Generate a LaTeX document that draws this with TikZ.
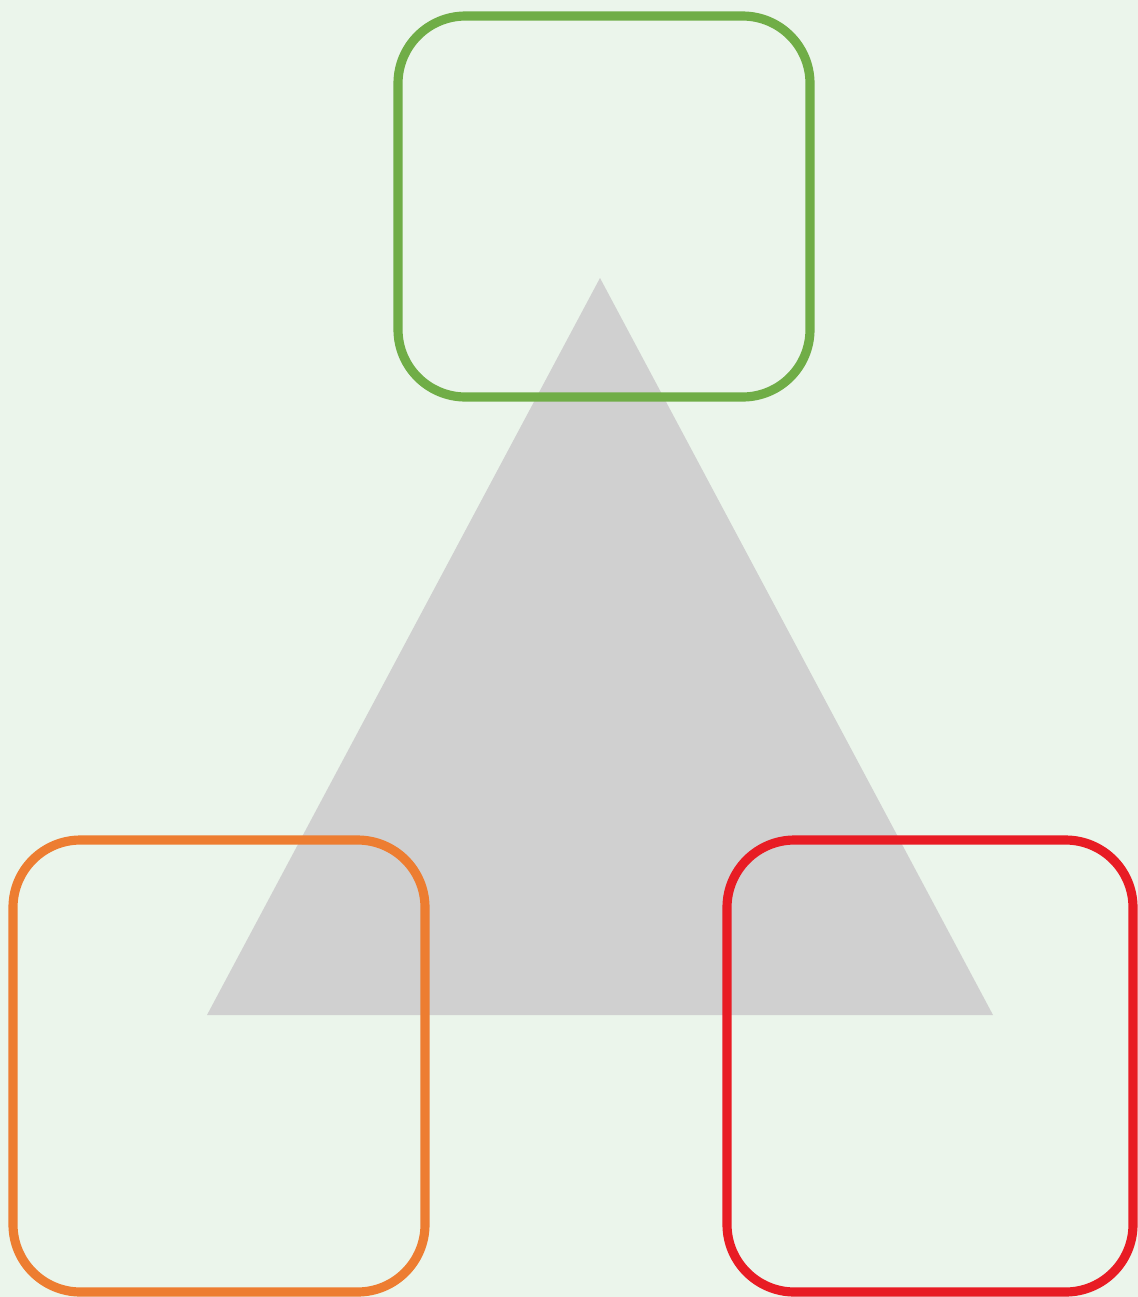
\documentclass[tikz,border=0pt]{standalone}
\usepackage{tikz}
\usepackage{xcolor}
\usetikzlibrary{positioning}
\definecolor{bgc}{HTML}{EBF5EB}
\definecolor{tri}{HTML}{D0D0D0}
\definecolor{cgreen}{HTML}{70AD47}
\definecolor{corange}{HTML}{ED7D31}
\definecolor{cred}{HTML}{E81C24}

\begin{document}
\begin{tikzpicture}
   \tikzstyle{box}=[rectangle,rounded corners=1.35cm,line width=5.2pt,inner sep=0pt,outer sep=0pt];
   \fill[bgc] (0,0) rectangle (22.76,-25.94);
   \useasboundingbox (0,0) rectangle (22.76,-25.94);
   \fill[tri] (12.0,-5.56) -- (4.14,-20.3) -- (19.86,-20.3) -- cycle;
   \node[box,draw=cgreen,minimum width=8.24cm,minimum height=7.62cm]  (top)   at (12.08,-4.13) {};
   \node[box,draw=corange,minimum width=8.24cm,minimum height=9.04cm] (left)  at (4.38,-21.32) {};
   \node[box,draw=cred,minimum width=8.12cm,minimum height=9.04cm]    (right) at (18.6,-21.32) {};
  \end{tikzpicture}
\end{document}
